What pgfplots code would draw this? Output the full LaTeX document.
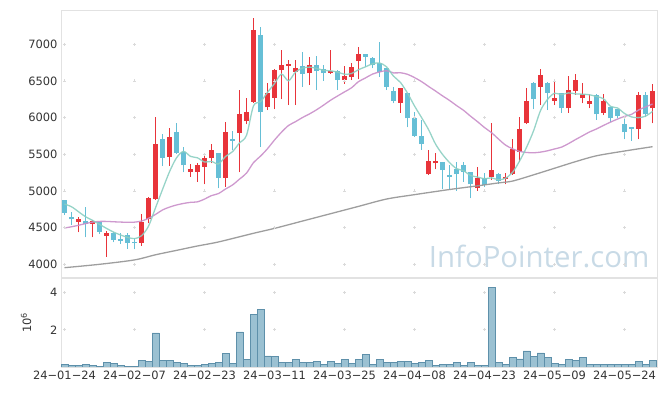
\documentclass[border=0pt]{standalone}
\usepackage{pgfplots}
\pgfplotsset{compat=1.18}
\usepackage{pgfplotstable}
\usepackage{fontspec}
\setmainfont{DejaVu Sans}
\newfontfamily\wmfont{Open Sans}
\definecolor{upred}{HTML}{E8343A}
\definecolor{dnblue}{HTML}{66BFD6}
\definecolor{maA}{HTML}{8CCFC2}
\definecolor{maB}{HTML}{C98EC9}
\definecolor{maC}{HTML}{999999}
\definecolor{framec}{HTML}{E2E2E2}
\definecolor{volfill}{HTML}{9BC1D2}
\definecolor{voledge}{HTML}{5E90AA}
\definecolor{wm}{HTML}{C8DAE6}
\definecolor{ticktext}{HTML}{333333}
\definecolor{crossc}{HTML}{DADADA}

\pgfplotstableread{
i o h l c
2 4581 4649 4436 4618
4 4554 4600 4368 4595
6 4390 4458 4104 4431
11 4295 4682 4254 4573
12 4614 4913 4559 4908
13 4895 6013 4877 5640
15 5467 5855 5340 5736
18 5263 5364 5195 5300
19 5263 5377 5126 5354
20 5331 5504 5091 5450
21 5445 5636 5377 5559
23 5181 5936 5058 5804
25 5795 6377 5255 6050
26 5954 6272 5909 6077
27 6217 7355 6200 7195
29 6141 6468 6104 6332
30 6272 6660 6114 6650
31 6650 6922 6250 6718
32 6708 6786 6172 6735
33 6626 6786 6172 6677
35 6605 6831 6445 6718
38 6613 6922 6600 6636
40 6513 6704 6459 6568
41 6558 6741 6513 6686
42 6772 6959 6523 6868
48 6204 6410 6067 6400
52 5227 5559 5220 5409
53 5377 5514 5295 5409
59 5036 5323 5004 5173
61 5186 5923 5150 5286
63 5159 5241 5091 5195
64 5227 5705 5220 5572
65 5535 6013 5399 5845
66 5923 6400 5910 6227
68 6422 6659 6172 6581
70 6231 6513 6172 6264
72 6127 6568 6067 6377
73 6363 6595 6309 6513
74 6264 6476 6195 6318
75 6190 6318 6127 6227
77 6067 6318 6036 6227
82 5845 6345 5705 6309
84 6127 6459 5923 6363
}\uptab

\pgfplotstableread{
i o h l c
0 4877 4880 4672 4704
1 4649 4717 4536 4614
3 4590 4777 4368 4554
5 4573 4580 4413 4445
7 4431 4440 4300 4331
8 4345 4423 4277 4322
9 4400 4423 4209 4295
10 4300 4355 4205 4290
14 5709 5777 5340 5454
16 5804 5923 5510 5522
17 5535 5595 5255 5350
22 5514 5514 5036 5181
24 5709 5814 5559 5685
28 7127 7232 5604 6073
34 6708 6891 6422 6595
36 6718 6845 6377 6636
37 6663 6718 6500 6605
39 6636 6650 6377 6513
43 6868 6870 6686 6831
44 6809 6831 6673 6718
45 6741 7035 6558 6626
46 6673 6680 6377 6422
47 6363 6422 6195 6231
49 6332 6340 5868 5991
50 5999 6081 5740 5750
51 5750 5968 5559 5640
54 5391 5400 5023 5286
55 5204 5360 5020 5195
56 5300 5399 5004 5227
57 5354 5399 5126 5263
58 5255 5260 4900 5091
60 5181 5249 5058 5081
62 5231 5240 5095 5136
67 6476 6480 6114 6254
69 6476 6480 6104 6340
71 6332 6340 6067 6127
76 6309 6320 5968 6045
78 6149 6150 5945 5991
79 6114 6120 5990 6022
80 5909 6022 5705 5800
81 5860 5860 5685 5850
83 6309 6345 6005 6045
}\dntab

\pgfplotstableread{
i v
0 0.12
1 0.07
2 0.07
3 0.12
4 0.07
5 0.02
6 0.23
7 0.18
8 0.07
9 0.02
10 0.02
11 0.34
12 0.28
13 1.83
14 0.34
15 0.34
16 0.23
17 0.18
18 0.07
19 0.07
20 0.12
21 0.18
22 0.23
23 0.71
24 0.18
25 1.88
26 0.39
27 2.84
28 3.10
29 0.60
30 0.55
31 0.23
32 0.23
33 0.39
34 0.23
35 0.23
36 0.28
37 0.12
38 0.30
39 0.18
40 0.39
41 0.18
42 0.39
43 0.66
44 0.12
45 0.39
46 0.23
47 0.23
48 0.28
49 0.28
50 0.18
51 0.23
52 0.34
53 0.07
54 0.12
55 0.12
56 0.23
57 0.07
58 0.23
59 0.07
60 0.07
61 4.29
62 0.23
63 0.12
64 0.50
65 0.44
66 0.87
67 0.55
68 0.76
69 0.50
70 0.18
71 0.12
72 0.39
73 0.34
74 0.50
75 0.12
76 0.12
77 0.12
78 0.12
79 0.12
80 0.12
81 0.12
82 0.28
83 0.12
84 0.34
}\voltab

\pgfplotstableread{
i m
0 4822
1 4785
2 4717
3 4649
4 4600
5 4545
6 4490
7 4440
8 4400
9 4368
10 4350
11 4390
12 4520
13 4770
14 5020
15 5262
16 5452
17 5540
18 5472
19 5452
20 5395
21 5403
22 5369
23 5470
24 5536
25 5656
26 5759
27 6162
28 6216
29 6345
30 6465
31 6594
32 6502
33 6622
34 6675
35 6689
36 6672
37 6646
38 6638
39 6622
40 6592
41 6602
42 6654
43 6693
44 6734
45 6746
46 6693
47 6566
48 6479
49 6334
50 6159
51 6002
52 5838
53 5640
54 5499
55 5388
56 5305
57 5276
58 5212
59 5190
60 5167
61 5179
62 5153
63 5174
64 5254
65 5407
66 5595
67 5819
68 6096
69 6249
70 6333
71 6313
72 6338
73 6324
74 6320
75 6312
76 6288
77 6258
78 6154
79 6132
80 6057
81 6010
82 6000
83 6020
84 6085
}\maAtab

\pgfplotstableread{
i m
0 4495
1 4512
2 4532
3 4555
4 4575
5 4585
6 4585
7 4580
8 4576
9 4573
10 4575
11 4590
12 4627
13 4680
14 4741
15 4780
16 4809
17 4830
18 4845
19 4852
20 4889
21 4937
22 4965
23 5027
24 5082
25 5162
26 5244
27 5387
28 5475
29 5577
30 5695
31 5802
32 5893
33 5945
34 6002
35 6051
36 6107
37 6170
38 6237
39 6295
40 6351
41 6407
42 6491
43 6542
44 6594
45 6623
46 6640
47 6610
48 6612
49 6591
50 6546
51 6492
52 6426
53 6363
54 6297
55 6235
56 6165
57 6100
58 6020
59 5945
60 5865
61 5795
62 5708
63 5626
64 5575
65 5540
66 5525
67 5521
68 5530
69 5548
70 5573
71 5598
72 5646
73 5701
74 5753
75 5805
76 5846
77 5894
78 5939
79 5981
80 6017
81 6045
82 6104
83 6146
84 6186
}\maBtab

\pgfplotstableread{
i m
0 3954
5 4000
10 4060
13 4130
16 4190
19 4250
22 4305
27 4423
30 4490
34 4590
38 4690
42 4790
46 4890
50 4950
55 5020
59 5070
62 5110
64 5135
67 5220
70 5310
73 5400
76 5480
80 5545
84 5604
}\maCtab

\tikzset{
  tickfont/.style={font=\fontsize{11.5}{13}\selectfont, text=ticktext},
}

\begin{document}
\begin{tikzpicture}
\useasboundingbox (0,0) rectangle (665bp,396bp);

% ---------- price panel ----------
\begin{axis}[
  at={(61bp,119bp)}, anchor=south west,
  scale only axis, width=596bp, height=267bp,
  xmin=-0.5, xmax=84.64, ymin=3827, ymax=7468,
  xtick={0,10,...,80}, xticklabels={},
  ytick={4000,4500,...,7000},
  scaled y ticks=false,
  /pgf/number format/assume math mode=true,
  /pgf/number format/1000 sep={},
  yticklabel style={tickfont},
  major tick length=0pt,
  axis line style={draw=framec, line width=0.8bp},
  clip=true,
]
\pgfplotsinvokeforeach{4000,4500,5000,5500,6000,6500,7000}{
  \addplot[only marks, mark=+, mark size=1.5bp, crossc, line width=0.6bp, forget plot]
    coordinates {(0,#1)(10,#1)(20,#1)(30,#1)(40,#1)(50,#1)(60,#1)(70,#1)(80,#1)};
}
\node[text=wm, font=\wmfont\fontsize{29.5}{30}\selectfont, anchor=base] at (axis cs:67.8,3963)
  {InfoPointer.com};

% wicks
\addplot[draw=none, mark=none, forget plot,
  error bars/.cd, y dir=plus, y explicit, error mark=none,
  error bar style={line width=1bp, draw=upred}]
  table[x=i, y=l, y error expr=\thisrow{h}-\thisrow{l}] {\uptab};
\addplot[draw=none, mark=none, forget plot,
  error bars/.cd, y dir=plus, y explicit, error mark=none,
  error bar style={line width=1bp, draw=dnblue}]
  table[x=i, y=l, y error expr=\thisrow{h}-\thisrow{l}] {\dntab};
% bodies
\addplot[draw=none, mark=none, forget plot,
  error bars/.cd, y dir=plus, y explicit, error mark=none,
  error bar style={line width=5.5bp, draw=upred}]
  table[x=i, y=o, y error expr={max(\thisrow{c}-\thisrow{o},18)}] {\uptab};
\addplot[draw=none, mark=none, forget plot,
  error bars/.cd, y dir=plus, y explicit, error mark=none,
  error bar style={line width=5.5bp, draw=dnblue}]
  table[x=i, y=c, y error expr={max(\thisrow{o}-\thisrow{c},18)}] {\dntab};

% moving averages
\addplot[maC, line width=1.3bp, smooth, no marks, opacity=0.95] table[x=i, y=m] {\maCtab};
\addplot[maB, line width=1.3bp, smooth, no marks, opacity=0.9] table[x=i, y=m] {\maBtab};
\addplot[maA, line width=1.3bp, smooth, no marks, opacity=0.9] table[x=i, y=m] {\maAtab};
\end{axis}

% ---------- volume panel ----------
\begin{axis}[
  at={(61bp,29bp)}, anchor=south west,
  scale only axis, width=596bp, height=89bp,
  xmin=-0.5, xmax=84.64, ymin=0, ymax=4.78,
  xtick={0,10,...,80},
  xticklabels={24−01−24,24−02−07,24−02−23,24−03−11,24−03−25,24−04−08,24−04−23,24−05−09,24−05−24},
  ytick={2,4},
  /pgf/number format/assume math mode=true,
  xticklabel style={tickfont},
  yticklabel style={tickfont},
  ylabel={10\textsuperscript{6}},
  ylabel style={tickfont, at={(axis description cs:-0.044,0.5)}, anchor=south},
  major tick length=0pt,
  axis line style={draw=framec, line width=0.8bp},
  clip=true,
]
\pgfplotsinvokeforeach{2,4}{
  \addplot[only marks, mark=+, mark size=1.5bp, crossc, line width=0.6bp, forget plot]
    coordinates {(0,#1)(10,#1)(20,#1)(30,#1)(40,#1)(50,#1)(60,#1)(70,#1)(80,#1)};
}
\addplot[ybar, bar width=1, bar shift=0pt, fill=volfill, draw=voledge, line width=0.6bp]
  table[x=i, y=v] {\voltab};
\end{axis}
\end{tikzpicture}
\end{document}
